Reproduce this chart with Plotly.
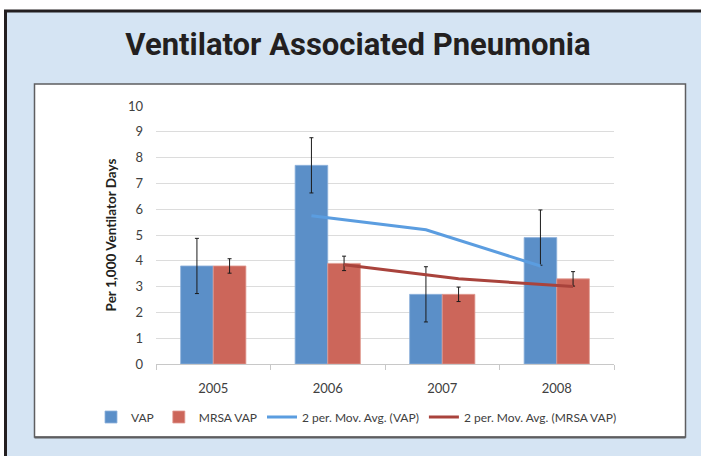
import plotly.graph_objects as go

# ---- data ----
years = ["2005", "2006", "2007", "2008"]
vap = [3.8, 7.7, 2.7, 4.9]
mrsa_vap = [3.8, 3.9, 2.7, 3.3]
vap_err = [1.07, 1.07, 1.07, 1.07]
mrsa_err = [0.28, 0.28, 0.28, 0.28]
vap_ma = [None, 5.75, 5.2, 3.8]
mrsa_ma = [None, 3.85, 3.3, 3.0]
y_ticks = list(range(0, 11))

# ---- layout constants ----
W, H = 701, 456
ML, MR, MT, MB = 156, 87, 106, 92
PW, PH = W - ML - MR, H - MT - MB
BARGAP = 0.43
bar_w = (1 - BARGAP) / 2
half = bar_w / 2

BLUE = "#5b8fc8"
RED = "#cc665a"
BLUE_LINE = "#5b9de0"
RED_LINE = "#a9433c"

idx = list(range(len(years)))

def px_x(p):
    return (p - ML) / PW

def px_y(p):
    return 1 - (p - MT) / PH

fig = go.Figure()
fig.add_trace(go.Bar(
    x=idx, y=vap, name="VAP", marker=dict(color=BLUE, line=dict(color="#8fb3dc", width=0.8)),
    error_y=dict(type="data", array=vap_err, color="#1a1a1a", thickness=1, width=2),
))
fig.add_trace(go.Bar(
    x=idx, y=mrsa_vap, name="MRSA VAP", marker=dict(color=RED, line=dict(color="#e19a92", width=0.8)),
    error_y=dict(type="data", array=mrsa_err, color="#1a1a1a", thickness=1, width=2),
))
fig.add_trace(go.Scatter(
    x=[i - half for i in idx], y=vap_ma, name="2 per. Mov. Avg. (VAP)", mode="lines",
    line=dict(color=BLUE_LINE, width=3), connectgaps=False,
))
fig.add_trace(go.Scatter(
    x=[i + half for i in idx], y=mrsa_ma, name="2 per. Mov. Avg. (MRSA VAP)", mode="lines",
    line=dict(color=RED_LINE, width=3), connectgaps=False,
))

shapes = [
    # outer border (right/bottom run off the page)
    dict(type="rect", xref="paper", yref="paper", layer="below",
         x0=px_x(5.5), x1=px_x(720), y0=px_y(11), y1=px_y(480),
         line=dict(color="#231f20", width=3), fillcolor="#d5e4f3"),
    # inner white chart box
    dict(type="rect", xref="paper", yref="paper", layer="below",
         x0=px_x(34.5), x1=px_x(685.5), y0=px_y(84), y1=px_y(437),
         line=dict(color="#5e5e60", width=1.5), fillcolor="white"),
    # slightly heavier bottom edge of the chart box
    dict(type="line", xref="paper", yref="paper", layer="below",
         x0=px_x(34.5), x1=px_x(685.5), y0=px_y(437.5), y1=px_y(437.5),
         line=dict(color="#5e5e60", width=2)),
]

fig.update_layout(
    width=W, height=H,
    margin=dict(l=ML, r=MR, t=MT, b=MB, pad=0, autoexpand=False),
    paper_bgcolor="white",
    plot_bgcolor="rgba(0,0,0,0)",
    barmode="group", bargap=BARGAP, bargroupgap=0,
    shapes=shapes,
    title=dict(text="<b>Ventilator Associated Pneumonia</b>", x=358 / W, xanchor="center",
               y=1 - 44 / H, yanchor="middle", yref="container", automargin=False,
               font=dict(family="Roboto, Liberation Sans, sans-serif", size=31, color="#231f20")),
    font=dict(family="Lato, Open Sans, sans-serif", size=13, color="#595959"),
    showlegend=True,
    legend=dict(orientation="h", xref="paper", yref="paper", x=px_x(91), xanchor="left",
                y=px_y(417), yanchor="middle", font=dict(size=12, color="#404040"),
                bgcolor="rgba(0,0,0,0)", itemwidth=30, tracegroupgap=0),
    xaxis=dict(
        range=[-0.5, len(years) - 0.5], tickvals=idx, ticktext=years,
        showgrid=False, zeroline=False, showline=True, linecolor="#c8c8c8", linewidth=1,
        ticks="", ticklabelstandoff=12,
        minor=dict(tickvals=[i - 0.5 for i in range(len(years) + 1)], ticks="outside",
                   ticklen=5, tickcolor="#c8c8c8", showgrid=False),
        tickfont=dict(size=13, color="#404040"),
    ),
    yaxis=dict(
        range=[0, 10], tickvals=y_ticks, showgrid=True, gridcolor="#dcdcdc", gridwidth=1,
        zeroline=False, showline=False, ticks="", ticklabelstandoff=12,
        tickfont=dict(size=13, color="#404040"),
        title=dict(text="<b>Per 1,000 Ventilator Days</b>", standoff=8,
                   font=dict(size=13.5, color="#231f20")),
    ),
)

fig.write_html("out.html", config={"displayModeBar": False},
               post_script="document.body.style.margin='0';")
